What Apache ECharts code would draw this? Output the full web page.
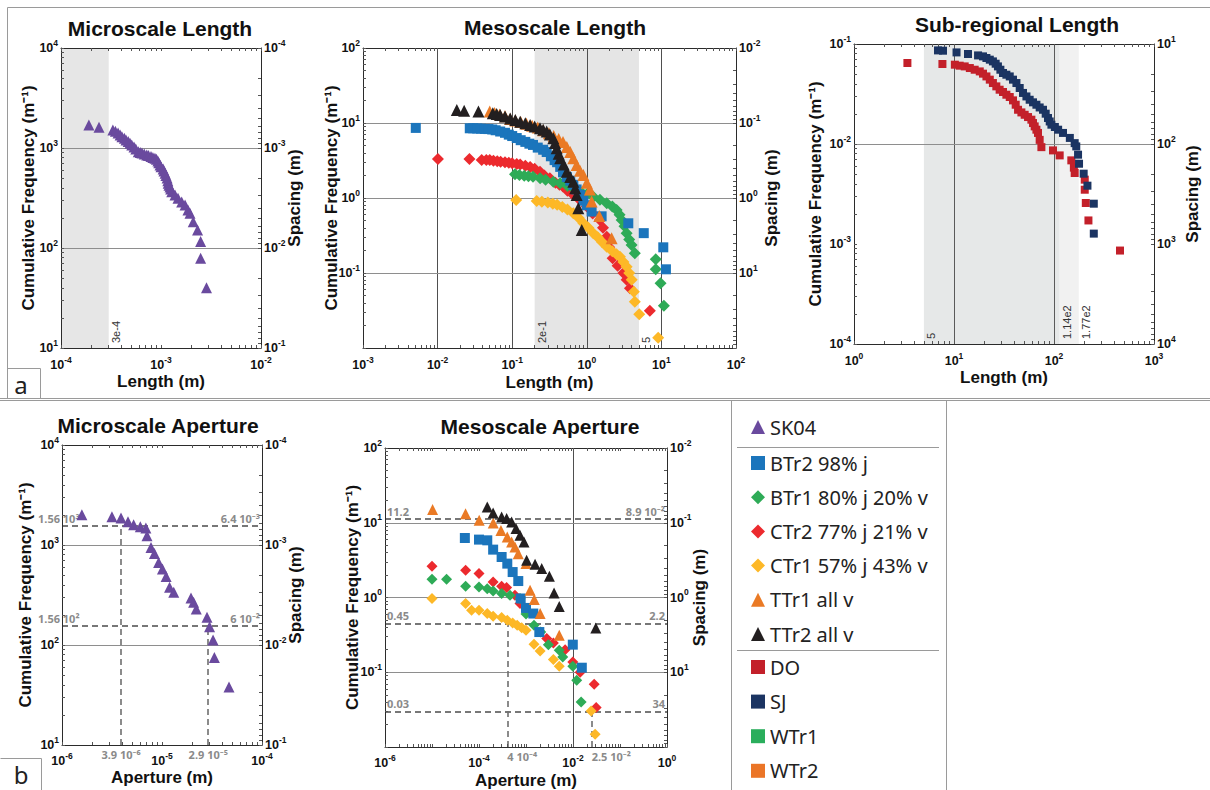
<!DOCTYPE html>
<html>
<head>
<meta charset="utf-8">
<script src="https://cdn.jsdelivr.net/npm/echarts@6/dist/echarts.min.js"></script>
<style>
  html, body { margin: 0; padding: 0; background: #fff; }
  #chart { width: 1210px; height: 790px; }
</style>
</head>
<body>
<div id="chart"></div>
<script>
// ---------- data: [length or aperture (m), cumulative frequency (1/m)] ----------
const sk04Length = [[1.9e-4,1700],[2.4e-4,1610],[3.3e-4,1515],[3.5e-4,1470],[3.72e-4,1413],[3.9e-4,1350],[4.07e-4,1298],
  [4.3e-4,1250],[4.47e-4,1202],[4.7e-4,1160],[4.9e-4,1114],[5.1e-4,1070],[5.37e-4,1023],[5.6e-4,980],[5.93e-4,918],
  [6.2e-4,900],[6.46e-4,891],[6.8e-4,870],[7.2e-4,851],[7.5e-4,840],[7.94e-4,822],[8.3e-4,805],[8.7e-4,789],[9.0e-4,770],
  [9.3e-4,741],[9.5e-4,710],[9.77e-4,676],[1.0e-3,650],[1.05e-3,617],[1.07e-3,590],[1.1e-3,558],[1.12e-3,530],[1.15e-3,501],
  [1.17e-3,470],[1.18e-3,444],[1.2e-3,425],[1.23e-3,407],[1.25e-3,390],[1.28e-3,366],[1.38e-3,339],[1.48e-3,314],
  [1.61e-3,288],[1.74e-3,269],[1.86e-3,240],[1.95e-3,222],[2.1e-3,183],[2.32e-3,151],[2.49e-3,116],[2.49e-3,79],[2.85e-3,40]];

const btr2Length = [[0.0051,8.6],[0.027,8.5],[0.03,8.5],[0.034,8.45],[0.038,8.4],[0.043,8.35],[0.048,8.3],[0.054,8.2],
  [0.06,8.0],[0.069,7.7],[0.08,7.4],[0.09,7.0],[0.1,6.7],[0.115,6.3],[0.13,5.9],[0.15,5.6],[0.17,5.3],[0.19,5.1],[0.22,4.7],
  [0.26,4.4],[0.29,4.1],[0.33,3.6],[0.37,3.2],[0.4,3.0],[0.44,2.6],[0.48,2.2],[0.54,1.9],[0.6,1.7],[0.66,1.5],[0.73,1.3],
  [0.81,1.1],[0.9,0.92],[1.0,0.8],[1.16,0.66],[1.58,0.57],[3.6,0.46],[5.8,0.34],[10.6,0.22],[11.5,0.112]];
const btr1Length = [[0.109,2.07],[0.125,2.02],[0.145,1.98],[0.165,1.95],[0.19,1.92],[0.237,1.83],[0.28,1.75],[0.356,1.65],
  [0.44,1.57],[0.55,1.45],[0.66,1.35],[0.73,1.28],[0.85,1.18],[1.0,1.12],[1.22,1.04],[1.5,0.95],[1.85,0.85],[2.2,0.77],
  [2.51,0.69],[2.75,0.6],[2.93,0.51],[3.2,0.42],[3.42,0.34],[3.7,0.28],[3.98,0.236],[4.4,0.183],[8.4,0.152],[8.4,0.112],
  [9.75,0.073],[10.8,0.0366]];
const ctr2Length = [[0.0101,3.3],[0.0267,3.3],[0.039,3.2],[0.045,3.2],[0.05,3.2],[0.056,3.15],[0.063,3.1],[0.07,3.05],
  [0.08,3.0],[0.09,2.95],[0.1,2.9],[0.115,2.85],[0.128,2.8],[0.15,2.7],[0.174,2.6],[0.2,2.45],[0.236,2.24],[0.27,2.0],
  [0.32,1.83],[0.38,1.6],[0.43,1.5],[0.48,1.42],[0.55,1.25],[0.66,1.1],[0.8,0.95],[1.0,0.77],[1.2,0.62],[1.5,0.51],
  [1.65,0.4],[1.85,0.305],[2.0,0.22],[2.22,0.157],[2.59,0.125],[3.1,0.1],[3.42,0.081],[3.79,0.0625],[7.0,0.0314]];
const ctr1Length = [[0.113,0.94],[0.213,0.91],[0.25,0.89],[0.3,0.87],[0.35,0.84],[0.4,0.81],[0.47,0.76],[0.55,0.7],
  [0.66,0.625],[0.78,0.54],[0.9,0.46],[1.05,0.4],[1.22,0.34],[1.4,0.3],[1.6,0.26],[1.85,0.224],[2.2,0.195],[2.5,0.178],
  [2.78,0.165],[3.1,0.14],[3.42,0.121],[3.7,0.1],[4.0,0.081],[4.28,0.0564],[4.4,0.0414],[5.05,0.0281],[9.06,0.0137]];
const ttr1Length = [[0.05,14.2],[0.058,13.6],[0.068,13.0],[0.08,12.3],[0.094,11.3],[0.11,10.8],[0.13,10.3],[0.155,9.8],
  [0.185,9.2],[0.22,8.7],[0.26,8.0],[0.31,7.3],[0.36,6.7],[0.42,6.1],[0.48,5.6],[0.54,4.8],[0.6,4.1],[0.66,3.4],
  [0.73,2.75],[0.81,2.3],[0.9,2.03],[1.0,1.6],[1.1,1.3],[1.16,0.9],[1.47,0.575],[2.15,0.29]];
const ttr2Length = [[0.0181,14.9],[0.0227,14.6],[0.0353,14.2],[0.055,13.5],[0.062,13.2],[0.069,12.8],[0.08,12.2],
  [0.094,11.5],[0.11,11.0],[0.128,10.4],[0.15,9.9],[0.174,9.4],[0.2,9.0],[0.236,8.5],[0.26,8.1],[0.29,7.7],[0.32,7.0],
  [0.356,6.25],[0.375,5.4],[0.395,4.6],[0.42,3.9],[0.44,3.4],[0.49,2.8],[0.54,2.24],[0.6,1.9],[0.66,1.65],[0.7,1.35],
  [0.73,1.1],[0.77,0.73],[0.855,0.374]];

const doLength = [[3.42,0.0646],[7.66,0.0631],[10.2,0.0621],[11.4,0.0607],[12.8,0.0597],[14.4,0.0575],[16.1,0.0553],
  [18.1,0.0532],[19.5,0.0505],[21.1,0.0474],[22.8,0.044],[24.5,0.0407],[26.5,0.0377],[28.6,0.0349],[30.9,0.0331],
  [33.4,0.0311],[36.1,0.0295],[38.9,0.0273],[41.4,0.0247],[43.7,0.022],[47.2,0.0207],[50.9,0.0196],[55,0.0186],
  [59.4,0.0175],[61.7,0.0162],[64.1,0.015],[66.7,0.0139],[69.2,0.0129],[71.9,0.011],[74.8,0.0093],[97.7,0.00863],
  [114,0.00769],[149,0.00686],[158,0.0058],[161,0.00513],[203,0.0044],[203,0.00349],[208,0.00257],[221,0.00172],[457,0.00086]];
const sjLength = [[6.92,0.0863],[7.76,0.0857],[10.6,0.0824],[13.8,0.0794],[17.4,0.0769],[19.5,0.0752],[21.1,0.0724],
  [22.8,0.0697],[24.5,0.067],[26.1,0.0635],[27.5,0.0597],[29.1,0.0553],[30.9,0.0513],[33.4,0.0493],[36.1,0.0474],
  [38.9,0.044],[42.1,0.0407],[45.4,0.0363],[49,0.0324],[53,0.0299],[57.1,0.0277],[61.7,0.0261],[66.7,0.0247],
  [71.9,0.0232],[77.6,0.022],[82.6,0.0201],[87.1,0.0182],[90.6,0.0168],[94.2,0.0156],[102,0.0148],[110,0.0139],
  [123,0.0129],[144,0.0115],[161,0.0102],[167,0.00946],[174,0.00782],[178,0.00635],[198,0.00505],[216,0.00383],
  [250,0.00253],[250,0.00127]];

const sk04Aperture = [[1.58e-6,2010],[3.16e-6,1919],[3.89e-6,1862],[4.57e-6,1710],[5.2e-6,1596],[6.07e-6,1524],
  [6.9e-6,1479],[7.08e-6,1239],[7.76e-6,946],[8.4e-6,824],[9.25e-6,670],[1.01e-5,575],[1.1e-5,485],[1.19e-5,377],
  [1.31e-5,336],[1.95e-5,295],[2.07e-5,267],[2.2e-5,229],[2.82e-5,189],[2.99e-5,152],[3.24e-5,112],[3.34e-5,75],[4.68e-5,38]];

const btr2Aperture = [[5.0e-5,6.25],[1.0e-4,5.95],[1.5e-4,5.82],[2.0e-4,4.37],[3.03e-4,3.48],[4.0e-4,2.84],[5.2e-4,2.19],
  [6.85e-4,1.66],[7.7e-4,0.97],[1.0e-3,0.725],[1.43e-3,0.61],[1.92e-3,0.345],[9.9e-3,0.234],[1.54e-2,0.115]];
const btr1Aperture = [[1.0e-5,1.75],[2.04e-5,1.75],[5.2e-5,1.41],[1.0e-4,1.38],[1.5e-4,1.31],[2.0e-4,1.22],[3.03e-4,1.13],
  [4.56e-4,1.07],[7.45e-4,0.97],[1.0e-3,0.6],[1.48e-3,0.425],[2.06e-3,0.345],[2.99e-3,0.234],[5.1e-3,0.197],
  [6.05e-3,0.16],[9.9e-3,0.12],[1.2e-2,0.078],[1.49e-2,0.04]];
const ctr2Aperture = [[1.0e-5,2.61],[5.2e-5,2.31],[1.0e-4,2.09],[2.0e-4,1.61],[3.03e-4,1.41],[3.87e-4,1.36],[5.82e-4,1.07],
  [7.45e-4,0.83],[2.76e-3,0.282],[3.82e-3,0.246],[6.8e-3,0.2],[9.9e-3,0.137],[1.42e-2,0.1],[2.82e-2,0.069],[3.11e-2,0.0337]];
const ctr1Aperture = [[1.0e-5,0.966],[5.2e-5,0.83],[6.95e-5,0.675],[1.0e-4,0.675],[1.5e-4,0.61],[2.0e-4,0.56],[3.03e-4,0.54],
  [4.0e-4,0.495],[5.2e-4,0.456],[6.5e-4,0.425],[8.1e-4,0.395],[1.0e-3,0.364],[1.48e-3,0.237],[2.0e-3,0.192],
  [3.82e-3,0.148],[5.1e-3,0.12],[2.43e-2,0.0303],[2.96e-2,0.0148]];
const ttr1Aperture = [[1.03e-5,15.0],[5.18e-5,13.2],[1.01e-4,10.8],[2.01e-4,9.9],[2.93e-4,7.9],[3.99e-4,6.45],[4.95e-4,5.52],
  [5.82e-4,4.74],[6.85e-4,3.86],[1.0e-3,2.84],[1.22e-3,1.25],[1.5e-3,0.94],[2.0e-3,0.61],[5.1e-3,0.312]];
const ttr2Aperture = [[1.5e-4,16.3],[2.0e-4,13.5],[3.03e-4,11.9],[3.87e-4,11.4],[4.95e-4,10.2],[6.12e-4,8.35],[7.45e-4,6.8],
  [9.06e-4,5.52],[1.03e-3,3.15],[1.56e-3,2.78],[2.16e-3,2.44],[3.14e-3,1.92],[3.95e-3,1.15],[5.1e-3,0.76],[3.06e-2,0.39]];

// cut-off lengths marking the analysed ranges: [panel, value, text]
const cutoffNotes = [[0, 3e-4, '3e-4'], [1, 0.2, '2e-1'], [1, 5, '5'], [2, 5, '5'], [2, 114, '1.14e2'], [2, 177, '1.77e2']];

// series names and colours
const NAMES = { sk04: 'SK04', btr2: 'BTr2 98% j', btr1: 'BTr1 80% j 20% v', ctr2: 'CTr2 77% j 21% v',
  ctr1: 'CTr1 57% j 43% v', ttr1: 'TTr1 all v', ttr2: 'TTr2 all v', do: 'DO', sj: 'SJ', wtr1: 'WTr1', wtr2: 'WTr2' };
const COLORS = { sk04: '#6a4a9e', btr2: '#1b75bc', btr1: '#2eab57', ctr2: '#ec2a2e', ctr1: '#fdb827',
  ttr1: '#ea7a25', ttr2: '#231f20', do: '#c3202a', sj: '#1b3462', wtr1: '#2aae5c', wtr2: '#eb7527' };

// ---------- styling helpers ----------
const FONT = '"Liberation Sans", Arial, sans-serif';
const NOTO = '"Noto Sans", "Open Sans", sans-serif';
const V_GRID = '#4f4f4f';
const H_GRID = '#8e8e8e';

const tickRich = {
  b: { fontFamily: FONT, fontSize: 12.5, fontWeight: 'bold', color: '#111', lineHeight: 20, verticalAlign: 'middle' },
  s: { fontFamily: FONT, fontSize: 8.5, fontWeight: 'bold', color: '#111', lineHeight: 11, verticalAlign: 'top' }
};
const nameStyle = { fontFamily: FONT, fontSize: 17, fontWeight: 'bold', color: '#111' };

function decadeValues(lo, hi, keep) {
  const out = [];
  for (let e = Math.round(Math.log10(lo)); e <= Math.round(Math.log10(hi)); e++) {
    if (!keep || keep.indexOf(e) >= 0) out.push(Math.pow(10, e));
  }
  return out;
}
function minorValues(lo, hi) {
  const out = [];
  const e0 = Math.round(Math.log10(lo)), e1 = Math.round(Math.log10(hi));
  for (let e = e0; e < e1; e++) for (let k = 1; k < 10; k++) out.push(k * Math.pow(10, e));
  out.push(Math.pow(10, e1));
  return out;
}
function powerLabel(keep) {
  return function (v) {
    const e = Math.round(Math.log10(v));
    if (keep && keep.indexOf(e) < 0) return '';
    return '{b|10}{s|' + e + '}';
  };
}

function logAxis(g, pos, range, o) {
  o = o || {};
  const lo = Math.min(range[0], range[1]), hi = Math.max(range[0], range[1]);
  const vertical = pos === 'left' || pos === 'right';
  return {
    type: 'log', logBase: 10, gridIndex: g, position: pos, min: lo, max: hi,
    inverse: !!o.inverse, z: 1,
    name: o.name || '', nameLocation: 'middle', nameGap: o.nameGap || 20, nameMoveOverlap: false,
    nameRotate: vertical ? 90 : 0, nameTextStyle: nameStyle,
    axisLine: { show: true, onZero: false, lineStyle: { color: '#2b2b2b', width: 1 } },
    axisTick: { show: true, inside: true, length: 3, customValues: minorValues(lo, hi),
      lineStyle: { color: '#555', width: 1 } },
    axisLabel: o.labels === false ? { show: false } : {
      show: true, margin: o.margin == null ? 3 : o.margin, hideOverlap: false,
      customValues: decadeValues(lo, hi, o.keep), formatter: powerLabel(o.keep), rich: tickRich,
      fontFamily: FONT, fontSize: 12.5, fontWeight: 'bold', color: '#111'
    },
    splitLine: { show: false }, minorTick: { show: false }, minorSplitLine: { show: false }
  };
}

function scatter(key, data, g, symbol, size) {
  return { type: 'scatter', name: NAMES[key], data: data, xAxisIndex: 2 * g, yAxisIndex: 2 * g,
    symbol: symbol, symbolSize: size, itemStyle: { color: COLORS[key], opacity: 1 },
    z: 2, silent: true, animation: false };
}

function vLine(x, color) { return { xAxis: x, lineStyle: { color: color, width: 1, type: 'solid' }, label: { show: false } }; }
function hLine(y, color) { return { yAxis: y, lineStyle: { color: color, width: 1, type: 'solid' }, label: { show: false } }; }
const DASH = { color: '#6f6f6f', width: 1.6, type: [6, 4] };
const noteFont = { fontFamily: NOTO, fontSize: 11, fontWeight: 'bold', color: '#8a8a8a' };
function dashH(y, text, pos, shift) {
  return { yAxis: y, lineStyle: DASH,
    label: Object.assign({ show: true, formatter: text, position: pos, distance: shift ? [shift, 2] : 2 }, noteFont) };
}
function dashV(x, yLo, yHi, text, align) {
  return [{ coord: [x, yLo], lineStyle: DASH,
    label: Object.assign({ show: true, formatter: text, position: 'start', distance: 4, align: align || 'center' }, noteFont) },
    { coord: [x, yHi] }];
}
function marks(areas, lines) {
  return {
    markArea: { silent: true, z: 0, animation: false, data: areas },
    markLine: { silent: true, z: 1, animation: false, symbol: ['none', 'none'], label: { show: false }, data: lines }
  };
}
function shade(a, b, color) { return [{ xAxis: a, itemStyle: { color: color } }, { xAxis: b }]; }

// ---------- panels ----------
const grids = [
  { left: 61, top: 48, width: 200, height: 300 },   // microscale length
  { left: 363, top: 48, width: 373, height: 300 },  // mesoscale length
  { left: 854, top: 44, width: 300, height: 300 },  // sub-regional length
  { left: 62, top: 445, width: 200, height: 300 },  // microscale aperture
  { left: 385, top: 448, width: 282, height: 299 }  // mesoscale aperture
];
const freqRanges = [[1e1, 1e4], [1e-2, 1e2], [1e-4, 1e-1], [1e1, 1e4], [1e-2, 1e2]];

const FREQ = 'Cumulative Frequency (m\u207B\u00B9)';
const SPACING = 'Spacing (m)';

const xAxes = [
  logAxis(0, 'bottom', [1e-4, 1e-2], { name: 'Length (m)', nameGap: 25, margin: 7 }),
  logAxis(0, 'top', [1e-4, 1e-2], { labels: false }),
  logAxis(1, 'bottom', [1e-3, 1e2], { name: 'Length (m)', nameGap: 26, margin: 7 }),
  logAxis(1, 'top', [1e-3, 1e2], { labels: false }),
  logAxis(2, 'bottom', [1e0, 1e3], { name: 'Length (m)', nameGap: 25, margin: 7 }),
  logAxis(2, 'top', [1e0, 1e3], { labels: false }),
  logAxis(3, 'bottom', [1e-6, 1e-4], { name: 'Aperture (m)', nameGap: 24, margin: 6 }),
  logAxis(3, 'top', [1e-6, 1e-4], { labels: false }),
  logAxis(4, 'bottom', [1e-6, 1e0], { name: 'Aperture (m)', nameGap: 25, margin: 6, keep: [-6, -4, -2, 0] }),
  logAxis(4, 'top', [1e-6, 1e0], { labels: false })
];
const yAxes = [
  logAxis(0, 'left', freqRanges[0], { name: FREQ, nameGap: 24 }),
  logAxis(0, 'right', [1e-4, 1e-1], { name: SPACING, nameGap: 25, inverse: true }),
  logAxis(1, 'left', freqRanges[1], { name: FREQ, nameGap: 23, keep: [-1, 0, 1, 2] }),
  logAxis(1, 'right', [1e-2, 1e2], { name: SPACING, nameGap: 27, inverse: true, keep: [-2, -1, 0, 1] }),
  logAxis(2, 'left', freqRanges[2], { name: FREQ, nameGap: 30 }),
  logAxis(2, 'right', [1e1, 1e4], { name: SPACING, nameGap: 30, inverse: true }),
  logAxis(3, 'left', freqRanges[3], { name: FREQ, nameGap: 28 }),
  logAxis(3, 'right', [1e-4, 1e-1], { name: SPACING, nameGap: 25, inverse: true }),
  logAxis(4, 'left', freqRanges[4], { name: FREQ, nameGap: 24, keep: [-1, 0, 1, 2] }),
  logAxis(4, 'right', [1e-2, 1e2], { name: SPACING, nameGap: 24, inverse: true, keep: [-2, -1, 0, 1] })
];

const series = [
  // microscale length
  Object.assign(scatter('sk04', sk04Length, 0, 'triangle', 11), marks(
    [shade(1e-4, 3e-4, '#e6e6e6')],
    [vLine(1e-3, V_GRID), hLine(1e2, H_GRID), hLine(1e3, H_GRID)])),
  // mesoscale length
  Object.assign(scatter('ctr2', ctr2Length, 1, 'diamond', 12), marks(
    [shade(0.2, 5, '#e5e5e5')],
    [vLine(1e-2, V_GRID), vLine(1e-1, V_GRID), vLine(1e0, V_GRID), vLine(1e1, V_GRID),
     hLine(1e-1, H_GRID), hLine(1e0, H_GRID), hLine(1e1, H_GRID)])),
  scatter('ctr1', ctr1Length, 1, 'diamond', 12),
  scatter('btr1', btr1Length, 1, 'diamond', 12),
  scatter('btr2', btr2Length, 1, 'rect', 10),
  scatter('ttr1', ttr1Length, 1, 'triangle', 12),
  scatter('ttr2', ttr2Length, 1, 'triangle', 12),
  // sub-regional length
  Object.assign(scatter('do', doLength, 2, 'rect', 8), marks(
    [shade(5, 114, '#e6e8e8'), shade(114, 177, '#f1f1f1')],
    [vLine(1e1, '#5a5a5a'), vLine(1e2, '#5a5a5a'), hLine(1e-3, H_GRID), hLine(1e-2, H_GRID)])),
  scatter('sj', sjLength, 2, 'rect', 8),
  scatter('wtr1', [], 2, 'rect', 8),
  scatter('wtr2', [], 2, 'rect', 8),
  // microscale aperture
  Object.assign(scatter('sk04', sk04Aperture, 3, 'triangle', 11), marks([],
    [vLine(1e-5, V_GRID), hLine(1e2, H_GRID), hLine(1e3, H_GRID),
     dashH(1560, '1.56 10\u00B3', 'insideStartTop', -24), dashH(1560, '6.4 10\u207B\u00B3', 'insideEndTop'),
     dashH(156, '1.56 10\u00B2', 'insideStartTop', -24), dashH(156, '6 10\u207B\u00B2', 'insideEndTop'),
     dashV(3.9e-6, 10, 1560, '3.9 10\u207B\u2076'), dashV(2.9e-5, 10, 156, '2.9 10\u207B\u2075')])),
  // mesoscale aperture
  Object.assign(scatter('ctr2', ctr2Aperture, 4, 'diamond', 11), marks([],
    [vLine(1e-4, V_GRID), vLine(1e-2, V_GRID), hLine(1e-1, H_GRID), hLine(1e0, H_GRID), hLine(1e1, H_GRID),
     dashH(11.2, '11.2', 'insideStartTop'), dashH(11.2, '8.9 10\u207B\u00B2', 'insideEndTop'),
     dashH(0.45, '0.45', 'insideStartTop'), dashH(0.45, '2.2', 'insideEndTop'),
     dashH(0.03, '0.03', 'insideStartTop'), dashH(0.03, '34', 'insideEndTop'),
     dashV(4e-4, 0.01, 0.45, '4 10\u207B\u2074', 'left'), dashV(2.5e-2, 0.01, 0.03, '2.5 10\u207B\u00B2', 'left')])),
  scatter('ctr1', ctr1Aperture, 4, 'diamond', 11),
  scatter('btr1', btr1Aperture, 4, 'diamond', 11),
  scatter('btr2', btr2Aperture, 4, 'rect', 10),
  scatter('ttr1', ttr1Aperture, 4, 'triangle', 11),
  scatter('ttr2', ttr2Aperture, 4, 'triangle', 11)
];

// ---------- legend ----------
const legendText = { fontFamily: NOTO, fontSize: 20, color: '#222', lineHeight: 20 };
function legendBlock(keys, top, gap) {
  return {
    orient: 'vertical', left: 751, top: top, padding: 0, itemWidth: 14, itemHeight: 14, itemGap: gap,
    selectedMode: false, textStyle: legendText,
    data: keys.map(k => ({ name: NAMES[k] }))
  };
}
const legends = [
  legendBlock(['sk04'], 417, 14),
  legendBlock(['btr2', 'btr1', 'ctr2', 'ctr1', 'ttr1', 'ttr2'], 453, 14.2),
  legendBlock(['do', 'sj', 'wtr1', 'wtr2'], 657, 14.6)
];

// ---------- titles, frames and panel tags ----------
const TITLE_FONT = 'bold 21px "Liberation Sans", Arial, sans-serif';
function title(text, x, y) {
  return { type: 'text', x: x, y: y, silent: true,
    style: { text: text, font: TITLE_FONT, fill: '#111', align: 'center', verticalAlign: 'middle' } };
}
function line(x1, y1, x2, y2) {
  return { type: 'line', silent: true, shape: { x1: x1, y1: y1, x2: x2, y2: y2 },
    style: { stroke: '#9a9a9a', lineWidth: 1 } };
}
function tag(text, x, y) {
  return { type: 'text', x: x, y: y, silent: true,
    style: { text: text, font: '24px "Noto Sans", sans-serif', fill: '#222', align: 'center', verticalAlign: 'middle' } };
}
const graphics = [
  line(7.5, 7.5, 1210, 7.5), line(7.5, 7.5, 7.5, 398.5), line(0, 398.5, 1210, 398.5),
  line(0, 400.5, 1210, 400.5),
  line(7.5, 368.5, 40.5, 368.5), line(40.5, 368.5, 40.5, 398.5),
  line(0.5, 758.5, 41.5, 758.5), line(41.5, 758.5, 41.5, 790),
  line(731.5, 400.5, 731.5, 790), line(946.5, 400.5, 946.5, 790),
  line(737, 447.5, 939, 447.5), line(737, 650.5, 939, 650.5),
  title('Microscale Length', 160, 28), title('Mesoscale Length', 555, 27), title('Sub-regional Length', 1017, 24),
  title('Microscale Aperture', 158, 425), title('Mesoscale Aperture', 540, 426),
  tag('a', 21, 384), tag('b', 21, 774)
];

const chart = echarts.init(document.getElementById('chart'), null, { renderer: 'svg', width: 1210, height: 790 });
chart.setOption({
  backgroundColor: '#ffffff',
  animation: false,
  grid: grids,
  xAxis: xAxes,
  yAxis: yAxes,
  legend: legends,
  series: series,
  graphic: graphics
});

// cut-off values written upright along the shaded-range edges, placed through the axis scales
const notes = cutoffNotes.map(function (n) {
  const g = n[0];
  const p = chart.convertToPixel({ xAxisIndex: 2 * g, yAxisIndex: 2 * g }, [n[1], freqRanges[g][0]]);
  return { type: 'text', x: p[0] + 2, y: p[1] - 5, rotation: Math.PI / 2, silent: true, z: 5,
    style: { text: n[2], font: '11px "Liberation Sans", Arial, sans-serif', fill: '#333',
      align: 'left', verticalAlign: 'top' } };
});
chart.setOption({ graphic: graphics.concat(notes) });
</script>
</body>
</html>
